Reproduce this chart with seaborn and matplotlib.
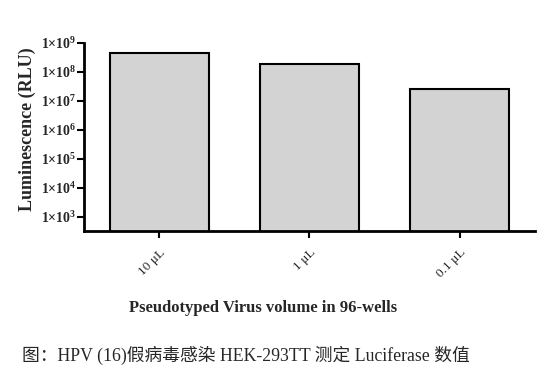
import matplotlib
matplotlib.use("Agg")
import matplotlib.pyplot as plt
import seaborn as sns
import pandas as pd
from matplotlib.ticker import FixedLocator, NullLocator

categories = ["10 μL", "1 μL", "0.1 μL"]
values = [4.3e8, 1.85e8, 2.5e7]
ytick_values = [1e3, 1e4, 1e5, 1e6, 1e7, 1e8, 1e9]
ytick_exps = [3, 4, 5, 6, 7, 8, 9]

sns.set_style("ticks")
plt.rcParams["font.family"] = ["Liberation Serif", "Noto Sans CJK SC", "DejaVu Sans"]
plt.rcParams["mathtext.fontset"] = "custom"
plt.rcParams["mathtext.rm"] = "Liberation Serif:bold"
plt.rcParams["mathtext.bf"] = "Liberation Serif:bold"
plt.rcParams["mathtext.it"] = "Liberation Serif:bold"

df = pd.DataFrame({"vol": categories, "lum": values})

fig = plt.figure(figsize=(5.6, 3.84), dpi=100)
ax = fig.add_axes([0.15, 0.398, 0.805, 0.491])
sns.barplot(data=df, x="vol", y="lum", ax=ax, color="#d3d3d3",
            edgecolor="black", linewidth=1.5, width=0.66, saturation=1)
ax.set_yscale("log")
ax.set_ylim(10 ** 2.5, 1e9)
ax.set_xlim(-0.5, 2.5)
ax.yaxis.set_major_locator(FixedLocator(ytick_values))
ax.yaxis.set_minor_locator(NullLocator())
ax.set_yticklabels([r"$1{\times}10^{%d}$" % e for e in ytick_exps], fontsize=10)
ax.set_xticks(range(len(categories)))
ax.set_xticklabels(categories, rotation=45, ha="right", rotation_mode="anchor",
                   fontsize=9.5)
ax.set_xlabel("")
ax.set_ylabel("")
for s in ["top", "right"]:
    ax.spines[s].set_visible(False)
for s in ["left", "bottom"]:
    ax.spines[s].set_linewidth(2)
    ax.spines[s].set_color("black")
ax.tick_params(axis="both", width=1.5, length=5, color="black", pad=0.5)
ax.tick_params(axis="x", pad=6)

fig.text(0.47, 0.198, "Pseudotyped Virus volume in 96-wells", ha="center",
         va="center", fontsize=12, fontweight="bold")
fig.text(0.048, 0.664, "Luminescence (RLU)", ha="center", va="center",
         rotation=90, fontsize=13, fontweight="bold")
fig.text(0.039, 0.075, "图：HPV (16)假病毒感染 HEK-293TT 测定 Luciferase 数值",
         ha="left", va="center", fontsize=12.8)

fig.savefig("out.png", dpi=100)
